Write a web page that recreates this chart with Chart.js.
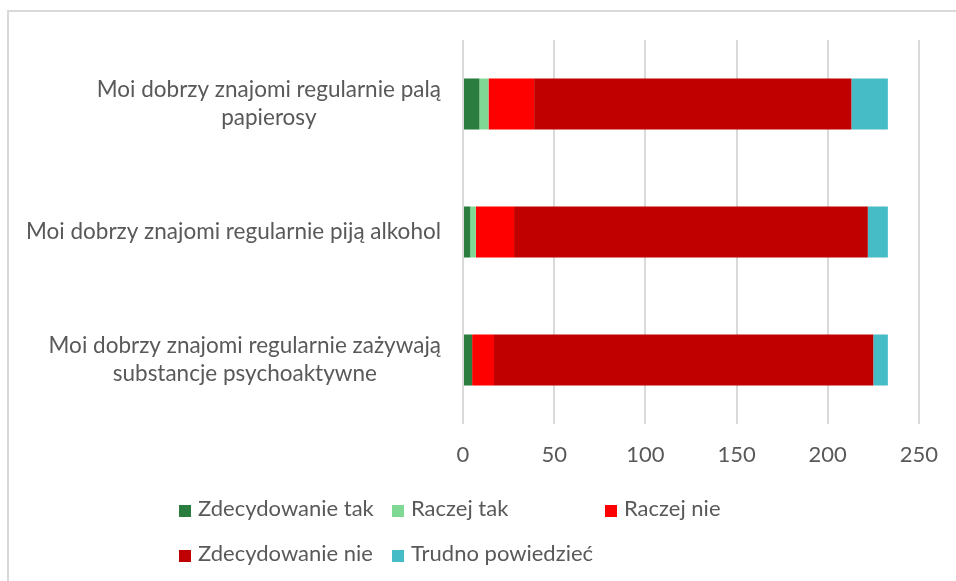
<!DOCTYPE html>
<html>
<head>
<meta charset="utf-8">
<script src="https://cdn.jsdelivr.net/npm/chart.js@4/dist/chart.umd.min.js"></script>
<style>
  body { margin: 0; background: #fff; }
  #wrap { position: relative; width: 956px; height: 581px; overflow: hidden; }
  #frame { position: absolute; left: 7px; top: 10px; width: 960px; height: 600px;
           border-top: 2px solid #d9d9d9; border-left: 2px solid #d9d9d9; }
  canvas { position: absolute; left: 0; top: 0; }
  .leg { position: absolute; font: 22px Lato, sans-serif; color: #595959; white-space: nowrap;
         line-height: 26px; }
  .leg span { display: inline-block; width: 12px; height: 12px; margin-right: 7px; vertical-align: -1px; }
</style>
</head>
<body>
<div id="wrap">
  <div id="frame"></div>
  <canvas id="chart" width="956" height="581"></canvas>
</div>
<script>
var categories = [
    ['Moi dobrzy znajomi regularnie palą', 'papierosy'],
    ['Moi dobrzy znajomi regularnie piją alkohol'],
    ['Moi dobrzy znajomi regularnie zażywają', 'substancje psychoaktywne']
];
var seriesNames = ['Zdecydowanie tak', 'Raczej tak', 'Raczej nie', 'Zdecydowanie nie', 'Trudno powiedzieć'];
var zdecydowanieTak = [9, 4, 5];
var raczejTak = [5, 3, 0];
var raczejNie = [25, 21, 12];
var zdecydowanieNie = [174, 194, 208];
var trudnoPowiedziec = [20, 11, 8];
var xTicks = [0, 50, 100, 150, 200, 250];

var colors = ['#2a7d3e', '#7fd894', '#ff0000', '#c00000', '#46bcc6'];
var values = [zdecydowanieTak, raczejTak, raczejNie, zdecydowanieNie, trudnoPowiedziec];
var textColor = '#595959';
var font = 'Lato, sans-serif';

// category labels: lines centred on each other, block right-aligned to the axis
var categoryLabels = {
    id: 'categoryLabels',
    afterDraw: function (chart) {
        var ctx = chart.ctx;
        var y = chart.scales.y;
        var right = chart.chartArea.left - 22;
        ctx.save();
        ctx.font = '22.5px ' + font;
        ctx.fillStyle = textColor;
        ctx.textAlign = 'center';
        ctx.textBaseline = 'middle';
        categories.forEach(function (lines, i) {
            var w = 0;
            lines.forEach(function (l) { w = Math.max(w, ctx.measureText(l).width); });
            var cy = y.getPixelForValue(i);
            var lh = 28;
            var top = cy - (lines.length - 1) * lh / 2;
            lines.forEach(function (l, j) {
                ctx.fillText(l, right - w / 2, top + j * lh);
            });
        });
        ctx.restore();
    }
};

new Chart(document.getElementById('chart'), {
    type: 'bar',
    data: {
        labels: categories,
        datasets: seriesNames.map(function (name, i) {
            return {
                label: name,
                data: values[i],
                backgroundColor: colors[i],
                borderWidth: 0,
                barPercentage: 0.4,
                categoryPercentage: 1
            };
        })
    },
    options: {
        indexAxis: 'y',
        responsive: false,
        animation: false,
        layout: { padding: { left: 463, right: 36, top: 40, bottom: 113 } },
        plugins: { legend: { display: false }, tooltip: { enabled: false } },
        scales: {
            x: {
                stacked: true,
                min: 0,
                max: 250,
                afterBuildTicks: function (scale) {
                    scale.ticks = xTicks.map(function (v) { return { value: v }; });
                },
                afterFit: function (scale) { scale.height = 44; },
                grid: { color: '#d9d9d9', lineWidth: 2, drawTicks: false },
                border: { display: false },
                ticks: { color: textColor, font: { family: font, size: 22 }, padding: 18 }
            },
            y: {
                stacked: true,
                afterFit: function (scale) { scale.width = 0; },
                grid: { display: false },
                border: { display: false },
                ticks: { display: false }
            }
        }
    },
    plugins: [categoryLabels]
});

// legend laid out in Excel-like columns
var legendPos = [[179, 495], [392, 495], [605, 495], [179, 540], [392, 540]];
var wrap = document.getElementById('wrap');
seriesNames.forEach(function (name, i) {
    var d = document.createElement('div');
    d.className = 'leg';
    d.style.left = legendPos[i][0] + 'px';
    d.style.top = legendPos[i][1] + 'px';
    d.innerHTML = '<span style="background:' + colors[i] + '"></span>' + name;
    wrap.appendChild(d);
});
</script>
</body>
</html>
